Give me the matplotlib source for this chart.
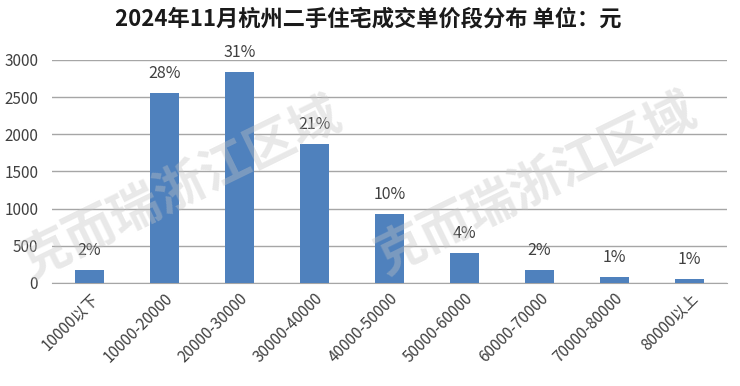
import matplotlib
matplotlib.use('Agg')
import matplotlib.pyplot as plt

plt.rcParams['font.family'] = ['Noto Sans CJK SC', 'DejaVu Sans']

categories = ['10000以下', '10000-20000', '20000-30000', '30000-40000', '40000-50000',
              '50000-60000', '60000-70000', '70000-80000', '80000以上']
counts = [180, 2550, 2840, 1870, 930, 400, 175, 77, 59]
shares = ['2%', '28%', '31%', '21%', '10%', '4%', '2%', '1%', '1%']
title = '2024年11月杭州二手住宅成交单价段分布 单位：元'

fig = plt.figure(figsize=(7.4, 3.86), dpi=100)
ax = fig.add_axes([0.0703, 0.267, 0.912, 0.578])

x = range(len(categories))
bars = ax.bar(x, counts, width=0.39, color='#4F81BD', zorder=3)

for bar, label in zip(bars, shares):
    ax.annotate(label, (bar.get_x() + bar.get_width() / 2, bar.get_height()),
                xytext=(0, 14), textcoords='offset points', ha='center', va='center',
                fontsize=11.5, color='#404040', zorder=4)

ax.set_xlim(-0.5, len(categories) - 0.5)
ax.set_ylim(0, 3000)
ax.set_yticks(range(0, 3001, 500))
ax.yaxis.grid(True, color='#a6a6a6', linewidth=1)
ax.set_axisbelow(True)
for side in ['left', 'right', 'top']:
    ax.spines[side].set_visible(False)
ax.spines['bottom'].set_color('#a6a6a6')
ax.tick_params(axis='both', length=0, labelsize=11, labelcolor='#404040')
ax.tick_params(axis='y', pad=10)
ax.tick_params(axis='x', pad=5)
ax.set_xticks(list(x))
ax.set_xticklabels(categories, rotation=45, ha='right', rotation_mode='anchor')

fig.text(0.498, 0.952, title, ha='center', va='center', fontsize=16,
         fontweight='bold', color='#1a1a1a')

# watermark
for cx, cy in [(0.245, 0.51), (0.725, 0.52)]:
    fig.text(cx, cy, '克而瑞浙江区域', ha='center', va='center', rotation=26,
             fontsize=36, fontweight='bold', color='#c4c4c4', alpha=0.38, zorder=10)

fig.savefig('out.png', dpi=100)
